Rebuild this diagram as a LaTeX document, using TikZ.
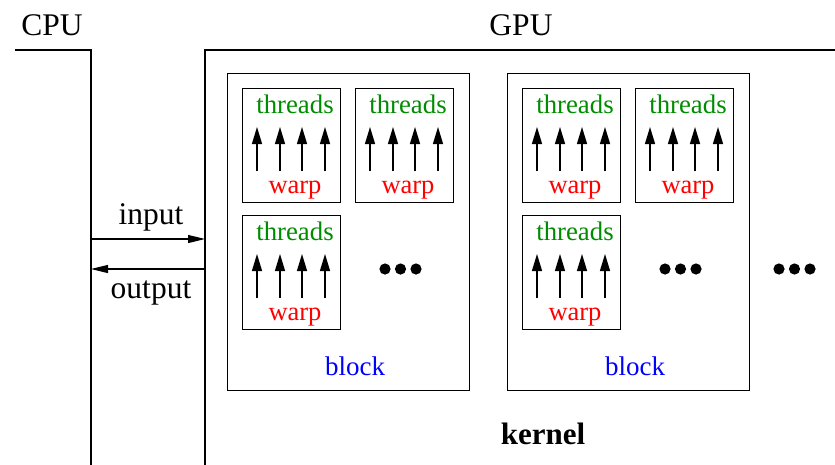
\documentclass[tikz,border=0pt]{standalone}
\usepackage{fontspec}
\setmainfont{Liberation Serif}
\usetikzlibrary{arrows.meta}
\definecolor{thrgreen}{RGB}{0,140,0}
\newcommand\mywarp[3]{%
  \node[warpbox] (#1) at (#2,#3) {};
  \node[thrtext] (#1t) at ({#2+4},{#3-32}) {threads};
  \node[warptext] (#1w) at ({#2+4},{#3+48}) {warp};
  \foreach \dx in {-34,-11,11,34}{
    \draw[thrarrow] ({#2+\dx},{#3+26}) -- ({#2+\dx},{#3-18});
  }%
}
\newcommand\mydots[3]{%
  \foreach \k in {0,1,2}{\fill ({#2+15.5*\k},#3) circle (5.6);}%
}
\begin{document}
\begin{tikzpicture}[x=1pt,y=-1pt,
  blockbox/.style={draw,line width=1pt,minimum width=242pt,minimum height=317pt,inner sep=0pt},
  warpbox/.style={draw,line width=1pt,minimum width=98pt,minimum height=114pt,inner sep=0pt},
  thrtext/.style={text=thrgreen,font=\fontsize{26.8}{27}\selectfont,inner sep=0pt,anchor=base},
  warptext/.style={text=red,font=\fontsize{26.5}{27}\selectfont,inner sep=0pt,anchor=base},
  blktext/.style={text=blue,font=\fontsize{27}{27}\selectfont,inner sep=0pt,anchor=base},
  bigtext/.style={font=\fontsize{31.5}{32}\selectfont,inner sep=0pt,anchor=base},
  wall/.style={line width=2pt},
  thrarrow/.style={line width=1.3pt,-{Triangle[length=17pt,width=10pt]}},
  ioarrow/.style={line width=1.2pt,-{Triangle[length=17pt,width=8pt]}}]
\useasboundingbox (0,0) rectangle (835,464);
% CPU and GPU walls
\draw[wall] (15,50) -- (91,50) -- (91,465);
\draw[wall] (205,465) -- (205,50) -- (836,50);
\node[bigtext] (cpu) at (52,35) {CPU};
\node[bigtext] (gpu) at (521,35) {GPU};
% input/output
\coordinate (inA) at (91,239);
\coordinate (inB) at (205,239);
\coordinate (outA) at (205,269);
\coordinate (outB) at (91,269);
\draw[ioarrow] (inA) -- (inB);
\draw[ioarrow] (outA) -- (outB);
\node[bigtext] (input) at (151,224) {input};
\node[bigtext] (output) at (151,298) {output};
% blocks
\node[blockbox] (b1) at (348,231.5) {};
\node[blockbox] (b2) at (628,231.5) {};
\node[blktext] (b1t) at (355,375) {block};
\node[blktext] (b2t) at (635,375) {block};
% warps
\mywarp{w11}{291}{145}
\mywarp{w12}{404}{145}
\mywarp{w13}{291}{272}
\mywarp{w21}{571}{145}
\mywarp{w22}{684}{145}
\mywarp{w23}{571}{272}
% dots
\mydots{d1}{385}{269}
\mydots{d2}{665}{269}
\mydots{d3}{779}{269}
\node[bigtext,font=\fontsize{31}{31}\selectfont\bfseries] (kernel) at (543,444) {kernel};
\end{tikzpicture}
\end{document}
